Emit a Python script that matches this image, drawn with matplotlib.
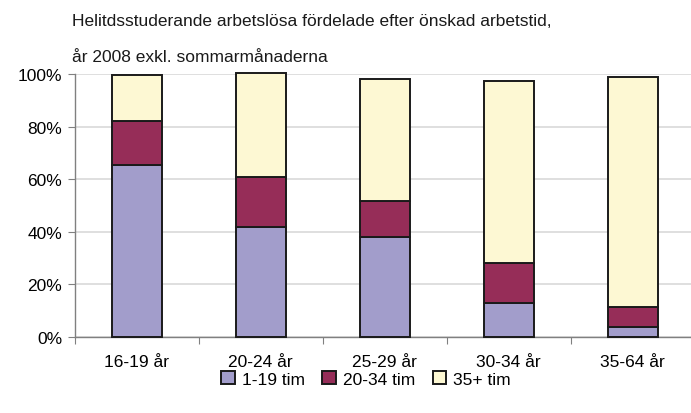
import numpy as np
import matplotlib.pyplot as plt
from matplotlib.ticker import PercentFormatter

plt.rcParams["font.family"] = ["Liberation Sans", "DejaVu Sans"]

# Values, percent of each age group
groups = ["16-19 år", "20-24 år", "25-29 år", "30-34 år", "35-64 år"]
tim_1_19 = [65.4, 41.8, 37.9, 12.9, 3.8]
tim_20_34 = [16.7, 19.0, 13.7, 15.2, 7.6]
tim_35 = [17.5, 39.6, 46.5, 69.2, 87.5]

series = [("1-19 tim", tim_1_19, "#A29DCB"),
          ("20-34 tim", tim_20_34, "#962D58"),
          ("35+ tim", tim_35, "#FDF8D3")]

fig = plt.figure(figsize=(6.91, 4.14), dpi=100)
ax = fig.add_axes([74.7 / 691, 1 - 338 / 414, 620 / 691, 263 / 414])

x = np.arange(len(groups))
bottom = np.zeros(len(groups))
for label, vals, color in series:
    ax.bar(x, vals, width=0.4, bottom=bottom, color=color,
           edgecolor="#1a1a1a", linewidth=1.4, label=label, zorder=3,
           clip_on=False)
    bottom += np.array(vals)

ax.set_xlim(-0.5, len(groups) - 0.5)
ax.set_ylim(0, 100)
ax.set_yticks(np.arange(0, 101, 20))
ax.yaxis.set_major_formatter(PercentFormatter(decimals=0))
ax.grid(axis="y", color="#d9d9d9", linewidth=1.2, zorder=0)

# category labels between boundary ticks
ax.set_xticks(np.arange(-0.5, len(groups), 1.0))
ax.set_xticklabels([])
ax.set_xticks(x, minor=True)
ax.set_xticklabels(groups, minor=True)
ax.tick_params(axis="x", which="minor", length=0, pad=12, labelsize=12.5)
ax.tick_params(axis="x", which="major", length=5, color="#808080")
ax.tick_params(axis="y", length=5, color="#808080", labelsize=12.5, pad=4)

for side in ["top", "right"]:
    ax.spines[side].set_visible(False)
for side in ["left", "bottom"]:
    ax.spines[side].set_color("#808080")
    ax.spines[side].set_linewidth(1.0)

fig.text(72 / 691, 1 - 22 / 414,
         "Helitdsstuderande arbetslösa fördelade efter önskad arbetstid,",
         fontsize=12.5, va="center", color="#1a1a1a")
fig.text(72 / 691, 1 - 58 / 414, "år 2008 exkl. sommarmånaderna",
         fontsize=12.5, va="center", color="#1a1a1a")

fig.legend(loc="center", bbox_to_anchor=(366 / 691, 1 - 380 / 414), ncol=3,
           frameon=False, fontsize=12.5, handlelength=0.8, handleheight=0.8,
           handletextpad=0.4, columnspacing=1.0)

fig.savefig("out.png", dpi=100)
